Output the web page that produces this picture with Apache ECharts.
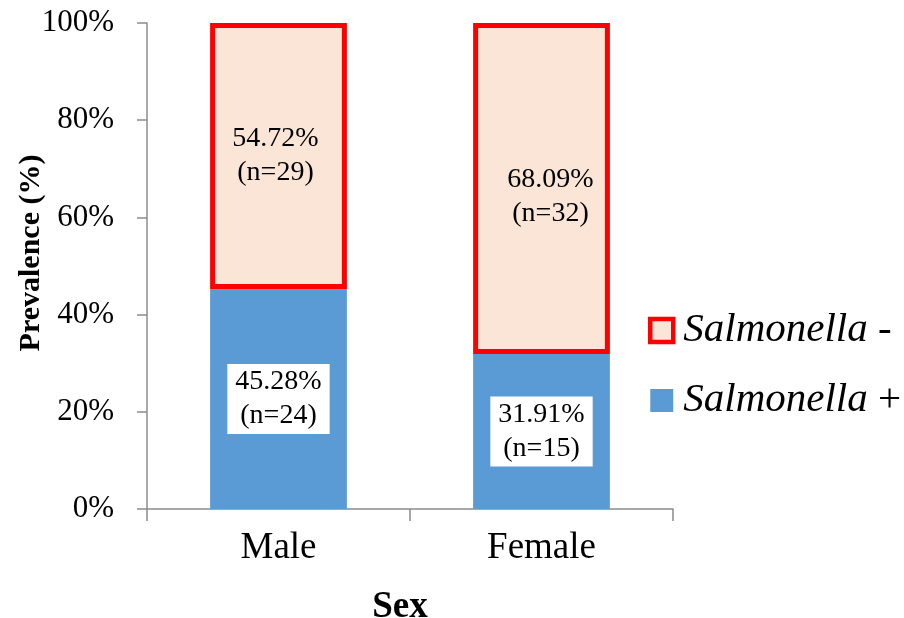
<!DOCTYPE html>
<html>
<head>
<meta charset="utf-8">
<style>
  html, body { margin: 0; padding: 0; background: #ffffff; }
  #chart { width: 904px; height: 618px; }
</style>
<script src="https://cdn.jsdelivr.net/npm/echarts@6/dist/echarts.min.js"></script>
</head>
<body>
<div id="chart"></div>
<script>
// Salmonella prevalence by sex (stacked to 100%)
var categories = ['Male', 'Female'];
var positivePct = [45.28, 31.91];
var positiveN = [24, 15];
var negativePct = [54.72, 68.09];
var negativeN = [29, 32];
var yTicks = [0, 20, 40, 60, 80, 100];

var serif = '"Liberation Serif", "Times New Roman", serif';
var axisGray = '#8c8c8c';

function pctLabel(pcts, ns) {
  return function (p) {
    return pcts[p.dataIndex].toFixed(2) + '%\n(n=' + ns[p.dataIndex] + ')';
  };
}

var chart = echarts.init(document.getElementById('chart'), null, { renderer: 'canvas' });

chart.setOption({
  animation: false,
  backgroundColor: '#ffffff',
  grid: {
    left: 147, right: 231, top: 23, bottom: 109,
    containLabel: false,
    outerBoundsMode: 'none'
  },
  legend: {
    orient: 'vertical',
    left: 643,
    top: 305,
    itemWidth: 23,
    itemHeight: 23,
    itemGap: 29,
    icon: 'rect',
    data: [
      { name: 'Salmonella -', itemStyle: { borderWidth: 4.5, borderColor: '#ff0000' } },
      { name: 'Salmonella +' }
    ],
    formatter: function (name) {
      var parts = name.split(' ');
      return '{i|' + parts[0] + '}{n| ' + parts[1] + '}';
    },
    textStyle: {
      fontFamily: serif,
      fontSize: 41,
      color: '#000',
      rich: {
        i: { fontFamily: serif, fontStyle: 'italic', fontSize: 41, color: '#000', padding: [0, 0, 0, 5] },
        n: { fontFamily: serif, fontSize: 41, color: '#000' }
      }
    }
  },
  xAxis: {
    type: 'category',
    data: categories,
    name: 'Sex',
    nameLocation: 'middle',
    nameGap: 80,
    nameTextStyle: {
      fontFamily: serif, fontWeight: 'bold', fontSize: 37, color: '#000',
      padding: [0, 20, 0, 0]
    },
    axisLine: { lineStyle: { color: axisGray, width: 1.5 } },
    axisTick: { show: true, length: 12, lineStyle: { color: axisGray, width: 1.5 } },
    axisLabel: { fontFamily: serif, fontSize: 37, color: '#000', margin: 21 }
  },
  yAxis: {
    type: 'value',
    min: 0,
    max: 100,
    interval: 20,
    name: 'Prevalence (%)',
    nameLocation: 'middle',
    nameGap: 101,
    nameRotate: 90,
    nameMoveOverlap: false,
    nameTextStyle: {
      fontFamily: serif, fontWeight: 'bold', fontSize: 30, color: '#000',
      padding: [0, 0, 0, 26]
    },
    splitLine: { show: false },
    axisLine: { show: true, lineStyle: { color: axisGray, width: 1.5 } },
    axisTick: { show: true, length: 10, lineStyle: { color: axisGray, width: 1.5 } },
    axisLabel: {
      fontFamily: serif, fontSize: 31, color: '#000', margin: 33,
      formatter: function (v) { return yTicks.indexOf(v) >= 0 ? v + '%' : ''; }
    }
  },
  series: [
    {
      name: 'Salmonella +',
      type: 'bar',
      stack: 'sex',
      barWidth: '52%',
      data: positivePct,
      itemStyle: { color: '#5b9bd5' },
      label: {
        show: true,
        position: 'inside',
        formatter: pctLabel(positivePct, positiveN),
        fontFamily: serif,
        fontSize: 28,
        lineHeight: 34,
        color: '#000',
        backgroundColor: '#ffffff',
        padding: [1, 8, 1, 8]
      }
    },
    {
      name: 'Salmonella -',
      type: 'bar',
      stack: 'sex',
      barWidth: '52%',
      data: [
        { value: negativePct[0], label: { offset: [-3, 0] } },
        { value: negativePct[1], label: { offset: [9, 8] } }
      ],
      itemStyle: { color: '#fbe5d6', borderColor: '#ff0000', borderWidth: 5 },
      label: {
        show: true,
        position: 'inside',
        formatter: pctLabel(negativePct, negativeN),
        fontFamily: serif,
        fontSize: 28,
        lineHeight: 34,
        color: '#000'
      }
    }
  ]
});
</script>
</body>
</html>
